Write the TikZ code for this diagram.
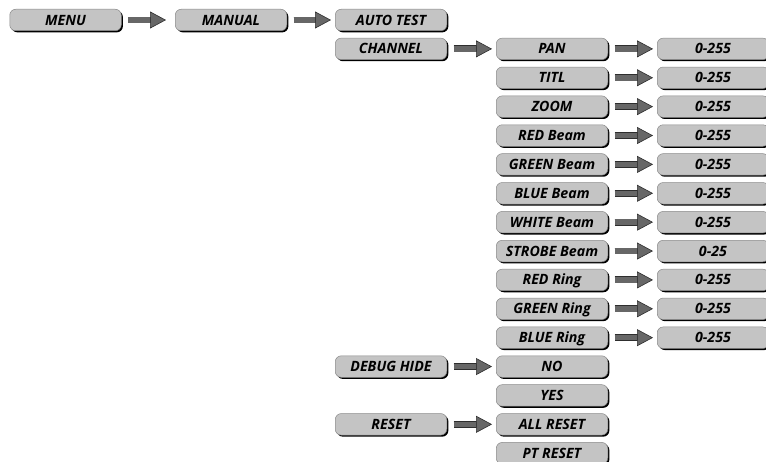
\documentclass[tikz,border=0pt]{standalone}
\usepackage{fontspec}
\setmainfont{Open Sans}
\usetikzlibrary{arrows.meta,shadows}
\definecolor{boxfill}{HTML}{C4C4C4}
\definecolor{boxline}{HTML}{8A8A8A}
\definecolor{arrowfill}{HTML}{676767}
\definecolor{arrowline}{HTML}{2E2E2E}
\tikzset{
  menubox/.style={rounded corners=6pt, fill=boxfill, draw=boxline, line width=0.5pt,
    minimum width=111.5pt, minimum height=21.5pt, inner sep=0pt, anchor=west,
    text height=10.1pt, text depth=0pt,
    font=\fontsize{14.2}{14}\selectfont\bfseries\itshape,
    drop shadow={shadow xshift=1.6pt, shadow yshift=-1.6pt, fill=black, opacity=1}},
  conn/.style={draw=arrowfill, line width=5.5pt, shorten <=6.5pt, shorten >=4pt,
    -{Triangle[length=16pt, width=17pt, line width=0.6pt, color=arrowline, fill=arrowfill]},
    preaction={draw=arrowline, line width=6.9pt, -, shorten >=14pt}}
}
\begin{document}
\begin{tikzpicture}[x=1pt,y=-1pt]
\useasboundingbox (0,0) rectangle (766,462);
\node[menubox] (menu) at (9.5,20) {MENU};
\node[menubox] (manual) at (175,20) {MANUAL};
\node[menubox] (autotest) at (335,20) {AUTO TEST};
\node[menubox] (channel) at (335,48.88) {CHANNEL};
\foreach \k/\t/\v in {1/PAN/0-255, 2/TITL/0-255, 3/ZOOM/0-255, 4/RED Beam/0-255,
  5/GREEN Beam/0-255, 6/BLUE Beam/0-255, 7/WHITE Beam/0-255, 8/STROBE Beam/0-25,
  9/RED Ring/0-255, 10/GREEN Ring/0-255, 11/BLUE Ring/0-255} {
  \node[menubox] (ch\k) at (496,{20+28.88*\k}) {\t};
  \node[menubox] (v\k) at (657,{20+28.88*\k}) {\v};
  \draw[conn] (ch\k) -- (v\k);
}
\node[menubox] (debug) at (335,{20+28.88*12}) {DEBUG HIDE};
\node[menubox] (no) at (496,{20+28.88*12}) {NO};
\node[menubox] (yes) at (496,{20+28.88*13}) {YES};
\node[menubox] (reset) at (335,{20+28.88*14}) {RESET};
\node[menubox] (allreset) at (496,{20+28.88*14}) {ALL RESET};
\node[menubox] (ptreset) at (496,{20+28.88*15}) {PT RESET};
\draw[conn, shorten >=9pt] (menu) -- (manual);
\draw[conn] (manual) -- (autotest);
\draw[conn] (channel) -- (ch1);
\draw[conn] (debug) -- (no);
\draw[conn] (reset) -- (allreset);
\end{tikzpicture}
\end{document}
